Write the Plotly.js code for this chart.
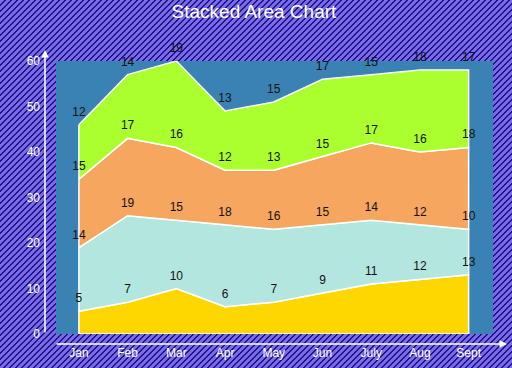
<!DOCTYPE html>
<html>
<head>
<meta charset="utf-8">
<script src="https://cdn.plot.ly/plotly-3.0.1.min.js"></script>
<style>
html,body{margin:0;padding:0;}
body{width:512px;height:368px;overflow:hidden;
background-color:#7b68ee;
background-image:repeating-linear-gradient(-45deg,#7b68ee 0px,#7b68ee 2.8px,#1a1a7a 2.8px,#1a1a7a 4.24px);}
#chart{width:512px;height:368px;}
</style>
</head>
<body>
<div id="chart"></div>
<script>
var months = ["Jan","Feb","Mar","Apr","May","Jun","July","Aug","Sept"];
var series1 = [5,7,10,6,7,9,11,12,13];
var series2 = [14,19,15,18,16,15,14,12,10];
var series3 = [15,17,16,12,13,15,17,16,18];
var series4 = [12,14,19,13,15,17,15,18,17];
var seriesList = [series1, series2, series3, series4];
var colors = ["#ffd700","#b3e6df","#f6a65e","#abff2e"];

var traces = [];
var base = months.map(function(){return 0;});
var labelTraces = [];
seriesList.forEach(function(s, k){
  var top = base.map(function(b,i){return b + s[i];});
  var xs = months.concat(months.slice().reverse());
  var ys = top.concat(base.slice().reverse());
  xs.push(months[0]); ys.push(top[0]);
  traces.push({x: xs, y: ys, type:'scatter', mode:'lines', fill:'toself',
    fillcolor: colors[k], line:{color:'white', width:1.5}, hoverinfo:'skip', showlegend:false});
  labelTraces.push({x: months, y: top, type:'scatter', mode:'markers+text', text: s.map(String),
    marker:{size:8, opacity:0},
    textposition:'top center', textfont:{family:'Liberation Sans, Arial', size:12, color:'#111'},
    showlegend:false, hoverinfo:'skip', cliponaxis:false});
  base = top;
});

var layout = {
  width:512, height:368,
  paper_bgcolor:'rgba(0,0,0,0)', plot_bgcolor:'#3b82b4',
  margin:{l:56, r:19, t:61, b:34},
  title:{text:'Stacked Area Chart', x:0.496, xref:'container', xanchor:'center', y:0.968, yref:'container', yanchor:'middle',
    font:{family:'Liberation Sans, Arial', size:19, color:'white'}},
  xaxis:{type:'category', range:[-0.47, 8.5], showgrid:false, zeroline:false, showline:false,
    ticks:'', ticklabelstandoff:10, tickfont:{family:'Liberation Sans, Arial', size:12, color:'white'}, fixedrange:true},
  yaxis:{range:[0,60], dtick:10, showgrid:false, zeroline:false, showline:false,
    ticks:'', ticklabelstandoff:15, tickfont:{family:'Liberation Sans, Arial', size:12, color:'white'}, fixedrange:true},
  annotations:[
    {xref:'paper', yref:'paper', x:-0.0252, y:1.04, ax:0, ay:284, axref:'pixel', ayref:'pixel', text:'',
     showarrow:true, arrowhead:2, arrowsize:1, arrowwidth:1.5, arrowcolor:'white', standoff:0, startstandoff:0},
    {xref:'paper', yref:'paper', x:1.032, y:-0.0366, ax:-452, ay:0, axref:'pixel', ayref:'pixel', text:'',
     showarrow:true, arrowhead:2, arrowsize:1, arrowwidth:1.5, arrowcolor:'white', standoff:0, startstandoff:0}
  ],
  showlegend:false
};
Plotly.newPlot('chart', traces.concat(labelTraces), layout, {staticPlot:true, displayModeBar:false});
</script>
</body>
</html>
